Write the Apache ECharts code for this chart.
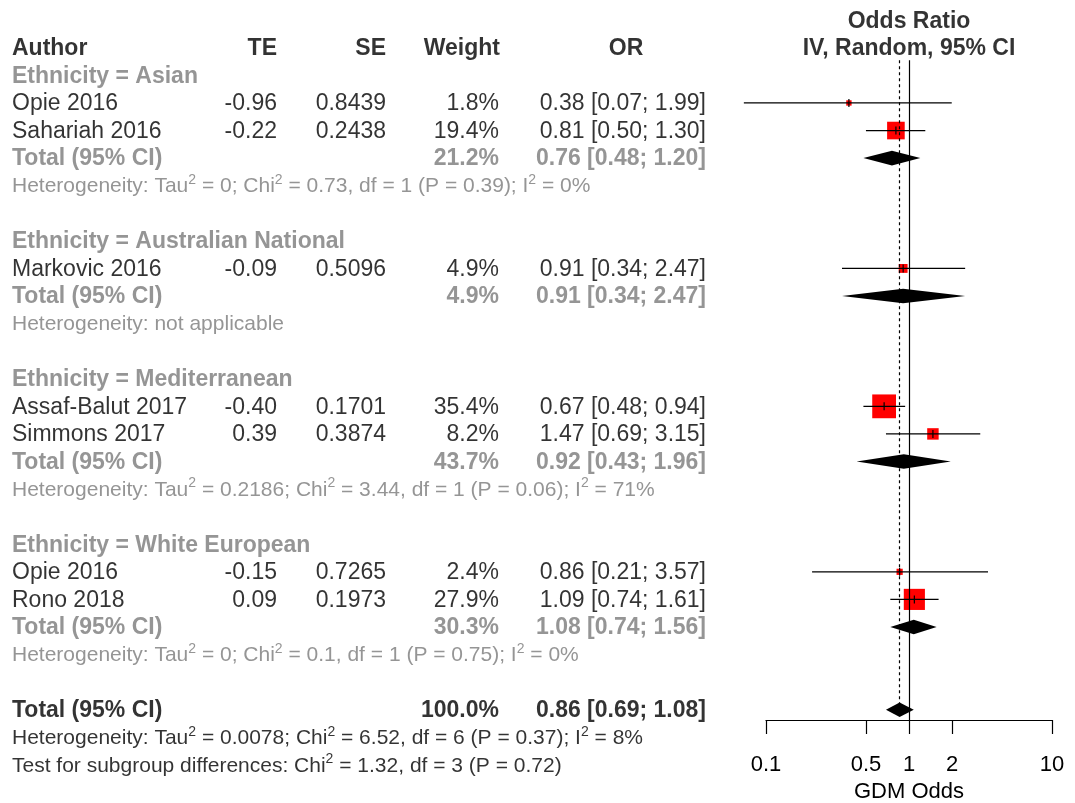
<!DOCTYPE html>
<html>
<head>
<meta charset="utf-8">
<script src="https://cdn.jsdelivr.net/npm/echarts@6/dist/echarts.min.js"></script>
<style>
  html, body { margin: 0; padding: 0; background: #ffffff; }
  #chart { width: 1075px; height: 803px; }
</style>
</head>
<body>
<div id="chart"></div>
<script>
// ---- Study data ----
const studyNames  = ['Opie 2016', 'Sahariah 2016', 'Markovic 2016', 'Assaf-Balut 2017', 'Simmons 2017', 'Opie 2016', 'Rono 2018'];
const studyGroup  = [0, 0, 1, 2, 2, 3, 3];
const studyTE     = ['-0.96', '-0.22', '-0.09', '-0.40', '0.39', '-0.15', '0.09'];
const studySE     = ['0.8439', '0.2438', '0.5096', '0.1701', '0.3874', '0.7265', '0.1973'];
const studyWeight = [1.8, 19.4, 4.9, 35.4, 8.2, 2.4, 27.9];
const studyOR     = [0.38, 0.81, 0.91, 0.67, 1.47, 0.86, 1.09];
const studyLower  = [0.07, 0.50, 0.34, 0.48, 0.69, 0.21, 0.74];
const studyUpper  = [1.99, 1.30, 2.47, 0.94, 3.15, 3.57, 1.61];

// ---- Subgroup summaries ----
const groupNames  = ['Ethnicity = Asian', 'Ethnicity = Australian National', 'Ethnicity = Mediterranean', 'Ethnicity = White European'];
const groupWeight = [21.2, 4.9, 43.7, 30.3];
const groupOR     = [0.76, 0.91, 0.92, 1.08];
const groupLower  = [0.48, 0.34, 0.43, 0.74];
const groupUpper  = [1.20, 2.47, 1.96, 1.56];
const groupHet    = [
  'Heterogeneity: Tau^2 = 0; Chi^2 = 0.73, df = 1 (P = 0.39); I^2 = 0%',
  'Heterogeneity: not applicable',
  'Heterogeneity: Tau^2 = 0.2186; Chi^2 = 3.44, df = 1 (P = 0.06); I^2 = 71%',
  'Heterogeneity: Tau^2 = 0; Chi^2 = 0.1, df = 1 (P = 0.75); I^2 = 0%'
];

// ---- Overall summary ----
const overallWeight = 100.0;
const overallOR     = 0.86;
const overallLower  = 0.69;
const overallUpper  = 1.08;
const overallHet    = 'Heterogeneity: Tau^2 = 0.0078; Chi^2 = 6.52, df = 6 (P = 0.37); I^2 = 8%';
const subgroupTest  = 'Test for subgroup differences: Chi^2 = 1.32, df = 3 (P = 0.72)';

// ---- Axis ----
const xTickValues = [0.1, 0.5, 1, 2, 10];
const xTickLabels = ['0.1', '0.5', '1', '2', '10'];
const columnHeaders = ['Author', 'TE', 'SE', 'Weight', 'OR'];
const plotTitle = ['Odds Ratio', 'IV, Random, 95% CI'];
const xAxisTitle = 'GDM Odds';

// ---- Layout ----
const FONT = "'Liberation Sans', Arial, Helvetica, sans-serif";
const FS = 23;        // table text
const FS_SMALL = 21;  // heterogeneity / test lines
const FS_AXIS = 22;
const BLACK = '#000000', GRAY = '#7a7a7a', RED = '#ff0000';
const W = 1075, H = 803;
const ROW_Y0 = 47.8, ROW_H = 27.58, AXIS_Y = 720;
const TEXT_DY = 1.0;  // glyph centre sits slightly above the box centre
const PLOT_LEFT = 766, PLOT_RIGHT = 1052;
const COL = { author: 12, te: 277, se: 386, weight: 499, or: 706, orHead: 626, plotHead: 909 };
const rowPx = r => ROW_Y0 + r * ROW_H;
const textRowMin = -1.5, textRowMax = 26.5;
const plotRowMin = 0.45, plotRowMax = (AXIS_Y - ROW_Y0) / ROW_H;

const fmt2 = v => v.toFixed(2);
const fmtOR = (m, lo, hi) => fmt2(m) + ' [' + fmt2(lo) + '; ' + fmt2(hi) + ']';
const fmtW = w => w.toFixed(1) + '%';
const supRich = s => s.replace(/\^2/g, '{sup|2}');

// ---- Table text and marks, row by row ----
const textItems = [];
const studyMarks = [];
const diamondMarks = [];

function txt(x, row, text, o) {
  o = o || {};
  const color = o.color || BLACK;
  const fs = o.small ? FS_SMALL : FS;
  textItems.push({
    value: [x, row + TEXT_DY / ROW_H],
    label: {
      show: true,
      position: [0, 0],
      align: o.align || 'left',
      verticalAlign: 'middle',
      formatter: o.rich ? supRich(text) : text,
      color: color,
      fontFamily: FONT,
      fontSize: fs,
      fontWeight: o.bold ? 'bold' : 'normal',
      lineHeight: 27,
      rich: {
        sup: { fontSize: 14, lineHeight: 14, verticalAlign: 'top', color: color, fontFamily: FONT }
      }
    }
  });
}

// Header
txt(COL.author, 0, columnHeaders[0], { bold: true });
txt(COL.te, 0, columnHeaders[1], { bold: true, align: 'right' });
txt(COL.se, 0, columnHeaders[2], { bold: true, align: 'right' });
txt(COL.weight + 1, 0, columnHeaders[3], { bold: true, align: 'right' });
txt(COL.orHead, 0, columnHeaders[4], { bold: true, align: 'center' });
txt(COL.plotHead, -1, plotTitle[0], { bold: true, align: 'center' });
txt(COL.plotHead, 0, plotTitle[1], { bold: true, align: 'center' });

let row = 1;
groupNames.forEach((g, gi) => {
  txt(COL.author, row, g, { bold: true, color: GRAY });
  row++;
  studyNames.forEach((name, i) => {
    if (studyGroup[i] !== gi) return;
    txt(COL.author, row, name);
    txt(COL.te, row, studyTE[i], { align: 'right' });
    txt(COL.se, row, studySE[i], { align: 'right' });
    txt(COL.weight, row, fmtW(studyWeight[i]), { align: 'right' });
    txt(COL.or, row, fmtOR(studyOR[i], studyLower[i], studyUpper[i]), { align: 'right' });
    studyMarks.push([studyOR[i], studyLower[i], studyUpper[i], row, studyWeight[i]]);
    row++;
  });
  txt(COL.author, row, 'Total (95% CI)', { bold: true, color: GRAY });
  txt(COL.weight, row, fmtW(groupWeight[gi]), { bold: true, color: GRAY, align: 'right' });
  txt(COL.or, row, fmtOR(groupOR[gi], groupLower[gi], groupUpper[gi]), { bold: true, color: GRAY, align: 'right' });
  diamondMarks.push([groupOR[gi], groupLower[gi], groupUpper[gi], row]);
  row++;
  txt(COL.author, row, groupHet[gi], { color: GRAY, rich: true, small: true });
  row += 2;
});

const overallRow = row;
txt(COL.author, row, 'Total (95% CI)', { bold: true });
txt(COL.weight, row, fmtW(overallWeight), { bold: true, align: 'right' });
txt(COL.or, row, fmtOR(overallOR, overallLower, overallUpper), { bold: true, align: 'right' });
diamondMarks.push([overallOR, overallLower, overallUpper, row]);
row++;
txt(COL.author, row, overallHet, { rich: true, small: true });
row++;
txt(COL.author, row, subgroupTest, { rich: true, small: true });

// ---- Chart ----
const chart = echarts.init(document.getElementById('chart'), null, { renderer: 'canvas' });

chart.setOption({
  backgroundColor: '#ffffff',
  animation: false,
  grid: [
    { left: PLOT_LEFT, right: W - PLOT_RIGHT, top: rowPx(plotRowMin), bottom: H - AXIS_Y, containLabel: false, outerBoundsMode: 'none' },
    { left: 0, right: 0, top: rowPx(textRowMin), bottom: H - rowPx(textRowMax), containLabel: false, outerBoundsMode: 'none' }
  ],
  xAxis: [
    {
      gridIndex: 0,
      type: 'log',
      logBase: 10,
      min: 0.1,
      max: 10,
      axisLine: { show: true, lineStyle: { color: BLACK, width: 1.2 } },
      axisTick: { show: true, length: 14, inside: false, customValues: xTickValues, lineStyle: { color: BLACK, width: 1.2 } },
      axisLabel: {
        show: true,
        customValues: xTickValues,
        margin: 34,
        color: BLACK,
        fontFamily: FONT,
        fontSize: FS_AXIS,
        formatter: v => {
          const k = xTickValues.findIndex(t => Math.abs(t - v) < 1e-6 * t);
          return k >= 0 ? xTickLabels[k] : '';
        }
      },
      splitLine: { show: false },
      minorTick: { show: false },
      name: xAxisTitle,
      nameLocation: 'middle',
      nameGap: 61,
      nameTextStyle: { color: BLACK, fontFamily: FONT, fontSize: FS_AXIS }
    },
    { gridIndex: 1, type: 'value', min: 0, max: W, show: false }
  ],
  yAxis: [
    { gridIndex: 0, type: 'value', min: plotRowMin, max: plotRowMax, inverse: true, show: false },
    { gridIndex: 1, type: 'value', min: textRowMin, max: textRowMax, inverse: true, show: false }
  ],
  series: [
    // reference lines: no effect (solid) and overall random-effects estimate (dotted)
    {
      type: 'line',
      xAxisIndex: 0, yAxisIndex: 0,
      data: [],
      z: 1,
      silent: true,
      markLine: {
        silent: true,
        symbol: ['none', 'none'],
        label: { show: false },
        animation: false,
        data: [
          { xAxis: 1, lineStyle: { color: BLACK, width: 1.2, type: 'solid' } },
          [
            { coord: [overallOR, plotRowMin], lineStyle: { color: BLACK, width: 1.2, type: [3, 3] } },
            { coord: [overallOR, overallRow] }
          ]
        ]
      }
    },
    // study squares with confidence intervals
    {
      type: 'custom',
      xAxisIndex: 0, yAxisIndex: 0,
      z: 3,
      silent: true,
      clip: false,
      data: studyMarks,
      renderItem: (params, api) => {
        const r = api.value(3);
        const c = api.coord([api.value(0), r]);
        const lo = api.coord([api.value(1), r]);
        const hi = api.coord([api.value(2), r]);
        const side = 4 * Math.sqrt(api.value(4));
        return {
          type: 'group',
          children: [
            { type: 'rect', shape: { x: c[0] - side / 2, y: c[1] - side / 2, width: side, height: side }, style: { fill: RED } },
            { type: 'line', shape: { x1: lo[0], y1: c[1], x2: hi[0], y2: c[1] }, style: { stroke: BLACK, lineWidth: 1.2 } },
            { type: 'line', shape: { x1: c[0], y1: c[1] - 4, x2: c[0], y2: c[1] + 4 }, style: { stroke: BLACK, lineWidth: 1.2 } }
          ]
        };
      }
    },
    // pooled estimates as diamonds
    {
      type: 'custom',
      xAxisIndex: 0, yAxisIndex: 0,
      z: 4,
      silent: true,
      clip: false,
      data: diamondMarks,
      renderItem: (params, api) => {
        const r = api.value(3);
        const c = api.coord([api.value(0), r]);
        const lo = api.coord([api.value(1), r]);
        const hi = api.coord([api.value(2), r]);
        const hh = 7.3;
        return {
          type: 'polygon',
          shape: { points: [[lo[0], c[1]], [c[0], c[1] - hh], [hi[0], c[1]], [c[0], c[1] + hh]] },
          style: { fill: BLACK }
        };
      }
    },
    // table text
    {
      type: 'scatter',
      xAxisIndex: 1, yAxisIndex: 1,
      z: 5,
      silent: true,
      clip: false,
      symbolSize: 0,
      itemStyle: { color: 'transparent' },
      data: textItems
    }
  ]
});
</script>
</body>
</html>
